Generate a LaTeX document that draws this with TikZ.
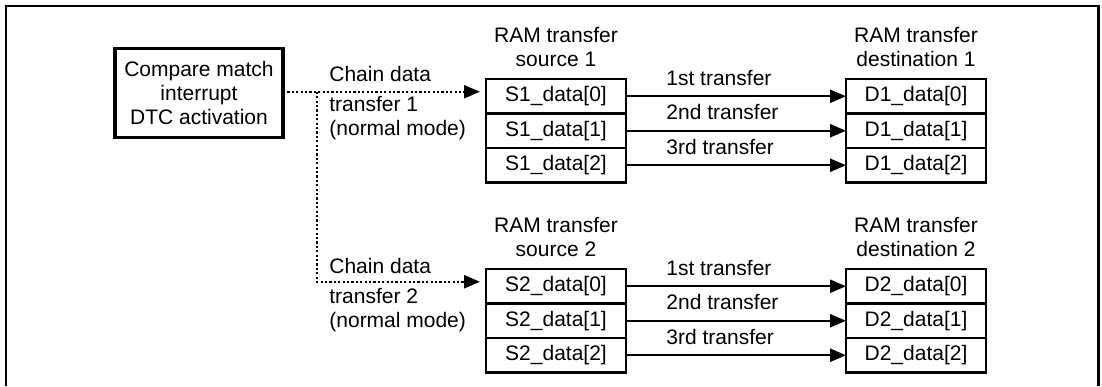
\documentclass[tikz,border=0pt]{standalone}
\usepackage{fontspec}
\setmainfont{Liberation Sans}
\usetikzlibrary{positioning, arrows.meta, calc}

\begin{document}
\begin{tikzpicture}[
    x=0.5pt, y=-0.5pt,
    font=\fontsize{10.5}{12}\selectfont,
    panel/.style={draw, line width=1.4pt},
    trigger/.style={draw, line width=1.7pt, minimum width=84pt, minimum height=44.25pt, align=center, inner sep=0pt, outer sep=0pt},
    slot/.style={draw, line width=1.2pt, minimum width=70pt, minimum height=17.25pt, inner sep=0pt, outer sep=0pt},
    head/.style={align=center, inner sep=0pt},
    chainlbl/.style={align=left, inner sep=0pt},
    lbl/.style={inner sep=0pt},
    arr/.style={-{Triangle[length=8pt, width=6.5pt]}, line width=1.2pt},
    darr/.style={arr, dash pattern=on 1.1pt off 1.1pt, shorten >=3pt},
]
\useasboundingbox (0,0) rectangle (1102,386);

% === Frame (open at the bottom) ===
\draw[panel] (6,386) -- (6,6) -- (1098.5,6) -- (1098.5,386);

% === Activation source ===
\node[trigger] (cmp) at (199,93) {Compare match\\interrupt\\DTC activation};

% === Chain 1: source and destination ===
\node[slot] (s1a) at (556,96.25) {S1\_data[0]};
\node[slot, below=0pt of s1a] (s1b) {S1\_data[1]};
\node[slot, below=0pt of s1b] (s1c) {S1\_data[2]};
\node[slot, right=110pt of s1a] (d1a) {D1\_data[0]};
\node[slot, below=0pt of d1a] (d1b) {D1\_data[1]};
\node[slot, below=0pt of d1b] (d1c) {D1\_data[2]};
\node[head, above=5.75pt of s1a] (hs1) {RAM transfer\\source 1};
\node[head, above=5.75pt of d1a] (hd1) {RAM transfer\\destination 1};

% === Chain 2: source and destination ===
\node[slot, below=43.25pt of s1c] (s2a) {S2\_data[0]};
\node[slot, below=0pt of s2a] (s2b) {S2\_data[1]};
\node[slot, below=0pt of s2b] (s2c) {S2\_data[2]};
\node[slot, right=110pt of s2a] (d2a) {D2\_data[0]};
\node[slot, below=0pt of d2a] (d2b) {D2\_data[1]};
\node[slot, below=0pt of d2b] (d2c) {D2\_data[2]};
\node[head, above=5.75pt of s2a] (hs2) {RAM transfer\\source 2};
\node[head, above=5.75pt of d2a] (hd2) {RAM transfer\\destination 2};

% Transfers, chain 1
\draw[arr] (s1a.east) -- (d1a.west);
\draw[arr] (s1b.east) -- (d1b.west);
\draw[arr] (s1c.east) -- (d1c.west);
\node[lbl, anchor=base west] (t1a) at ($(s1a.east)+(40,-11)$) {1st transfer};
\node[lbl, anchor=base west] (t1b) at ($(s1b.east)+(40,-11)$) {2nd transfer};
\node[lbl, anchor=base west] (t1c) at ($(s1c.east)+(40,-11)$) {3rd transfer};

% Transfers, chain 2
\draw[arr] (s2a.east) -- (d2a.west);
\draw[arr] (s2b.east) -- (d2b.west);
\draw[arr] (s2c.east) -- (d2c.west);
\node[lbl, anchor=base west] (t2a) at ($(s2a.east)+(40,-11)$) {1st transfer};
\node[lbl, anchor=base west] (t2b) at ($(s2b.east)+(40,-11)$) {2nd transfer};
\node[lbl, anchor=base west] (t2c) at ($(s2c.east)+(40,-11)$) {3rd transfer};

% === Chain data transfer (dotted) ===
\coordinate (in1) at ($(s1a.west)+(0,-4.5)$);
\coordinate (in2) at ($(s2a.west)+(0,-4.5)$);
\coordinate (split) at (317,0);
\draw[darr] (cmp.east |- in1) -- (in1);
\draw[darr] (split |- in1) |- (in2);

\node[chainlbl, anchor=north west] (ch1) at (329,66) {Chain data\\[3pt]transfer 1\\(normal mode)};
\node[chainlbl, anchor=north west] (ch2) at (329,258) {Chain data\\[3pt]transfer 2\\(normal mode)};

\end{tikzpicture}
\end{document}
